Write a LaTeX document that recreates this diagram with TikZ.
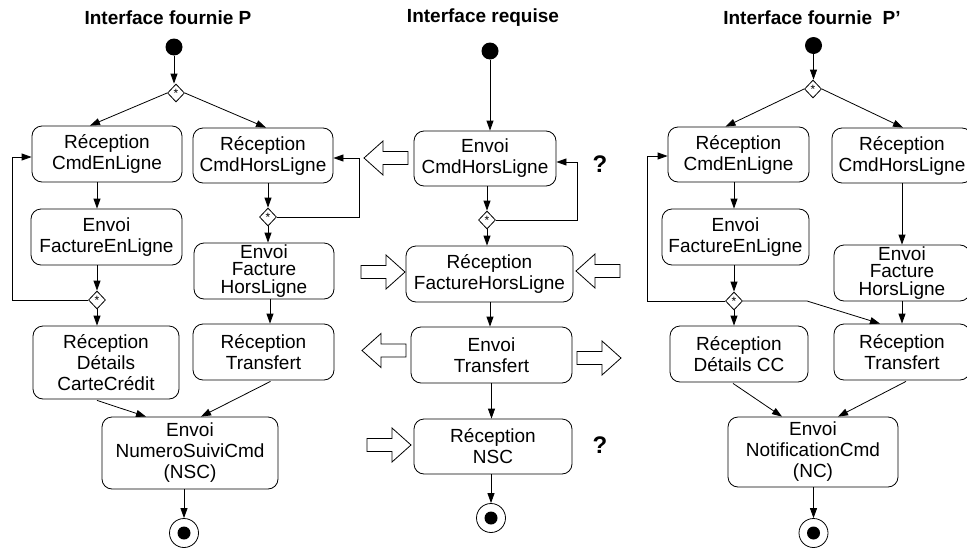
\documentclass[tikz,border=0pt]{standalone}
\usepackage{fontspec}
\setmainfont{Liberation Sans}
\usepackage{tikz}
\usetikzlibrary{shapes.geometric, arrows.meta, calc}

\begin{document}
\begin{tikzpicture}[x=1pt, y=-1pt,
  etat/.style={draw, line width=0.8pt, rounded corners=10pt, align=center, inner sep=0pt, font=\fontsize{19}{21}\selectfont},
  debut/.style={circle, fill=black, minimum size=17pt, inner sep=0pt},
  fin/.style={circle, draw, line width=0.8pt, minimum size=29pt, inner sep=0pt,
    path picture={\fill[black] (path picture bounding box.center) circle (6.5pt);}},
  branche/.style={diamond, draw, line width=0.8pt, minimum width=17pt, minimum height=18pt, inner sep=0pt, font=\fontsize{12}{12}\selectfont},
  titre/.style={font=\fontsize{19}{21}\selectfont\bfseries},
  quest/.style={font=\fontsize{24}{24}\selectfont\bfseries},
  fl/.style={-{Triangle[length=10pt, width=7pt]}, line width=0.8pt},
  bloc/.pic={\draw[line width=0.8pt, fill=white] (0,-6.5) -- (25,-6.5) -- (25,-17) -- (44,0) -- (25,17) -- (25,6.5) -- (0,6.5) -- cycle;}]
\useasboundingbox (0,0) rectangle (967,549);
\clip (0,0) rectangle (967,549);

% Titles
\node[titre] (titreP) at (168,18) {Interface fournie P};
\node[titre] (titreR) at (483,18) {Interface requise};
\node[titre] (titreP2) at (812,18) {Interface fournie\ \ P’};

% Interface fournie P
\node[debut] (initP) at (174,47) {};
\node[branche] (forkP) at (176,93) {\raisebox{-3pt}{*}};
\node[etat, minimum width=150pt, minimum height=56pt] (recEnP) at (107,154) {Réception\\CmdEnLigne};
\node[etat, minimum width=140pt, minimum height=55pt] (recHorsP) at (263,155.5) {Réception\\CmdHorsLigne};
\node[etat, minimum width=151pt, minimum height=56pt] (envFactEnP) at (106.5,237) {Envoi\\FactureEnLigne};
\node[branche] (joinHorsP) at (268,217) {\raisebox{-3pt}{*}};
\node[etat, minimum width=140pt, minimum height=56pt, font=\fontsize{19}{17.5}\selectfont] (envFactHorsP) at (264,271) {Envoi\\Facture\\HorsLigne};
\node[branche] (joinEnP) at (97,300) {\raisebox{-3pt}{*}};
\node[etat, minimum width=146pt, minimum height=73pt] (recDetP) at (106,362.5) {Réception\\Détails\\CarteCrédit};
\node[etat, minimum width=141pt, minimum height=56pt] (recTransP) at (263.5,352) {Réception\\Transfert};
\node[etat, minimum width=176pt, minimum height=72pt] (envNscP) at (190,453) {Envoi\\NumeroSuiviCmd\\(NSC)};
\node[fin] (finP) at (184,533) {};
\coordinate (boucleEnP) at (12,157);
\coordinate (boucleHorsP) at (359,158);

\draw[fl] (initP) -- (initP |- forkP.north);
\draw[fl] (forkP.west) -- ($(recEnP.north)+(-17,0)$);
\draw[fl] (forkP.east) -- ($(recHorsP.north)+(3,0)$);
\draw[fl] (recEnP.south -| joinEnP) -- (envFactEnP.north -| joinEnP);
\draw[fl] (envFactEnP.south -| joinEnP) -- (joinEnP);
\draw[fl] (joinEnP) -- (recDetP.north -| joinEnP);
\draw[fl] (joinEnP.west) -| (boucleEnP) -- (boucleEnP -| recEnP.west);
\draw[fl] (recHorsP.south -| joinHorsP) -- (joinHorsP);
\draw[fl] (joinHorsP) -- (envFactHorsP.north -| joinHorsP);
\draw[fl] (joinHorsP.east) -| (boucleHorsP) -- (boucleHorsP -| recHorsP.east);
\draw[fl] ($(envFactHorsP.south)+(6,0)$) -- ($(recTransP.north)+(6.5,0)$);
\draw[fl] ($(recDetP.south)+(-9,1)$) -- ($(envNscP.north)+(-44,0)$);
\draw[fl] ($(recTransP.south)+(7,1)$) -- ($(envNscP.north)+(11,0)$);
\draw[fl] (envNscP.south -| finP) -- (finP);

% Interface requise
\node[debut] (initR) at (490,51) {};
\node[etat, minimum width=142pt, minimum height=55pt] (envCmdR) at (485,158.5) {Envoi\\CmdHorsLigne};
\node[branche] (joinR) at (487,220) {\raisebox{-3pt}{*}};
\node[etat, minimum width=167pt, minimum height=56pt] (recFactR) at (489.5,274) {Réception\\FactureHorsLigne};
\node[etat, minimum width=161pt, minimum height=56pt] (envTransR) at (491.5,355) {Envoi\\Transfert};
\node[etat, minimum width=158pt, minimum height=55pt] (recNscR) at (493,446.5) {Réception\\NSC};
\node[fin] (finR) at (491,518) {};
\node[quest] (questR1) at (600,164) {?};
\node[quest] (questR2) at (600,445) {?};
\coordinate (boucleR) at (577,162);

\draw[fl] (initR) -- (initR |- envCmdR.north);
\draw[fl] (envCmdR.south -| joinR) -- (joinR);
\draw[fl] (joinR) -- (recFactR.north -| joinR);
\draw[fl] (joinR.east) -| (boucleR) -- (boucleR -| envCmdR.east);
\draw[fl] ($(recFactR.south)+(0.5,0)$) -- ($(envTransR.north)+(-1.5,0)$);
\draw[fl] (envTransR.south) -- (recNscR.north -| envTransR.south);
\draw[fl] (recNscR.south -| finR) -- (finR);

% Block arrows between interfaces
\pic[xscale=-1] at (408,158) {bloc};
\pic at (361,272) {bloc};
\pic[xscale=-1] at (620,271) {bloc};
\pic[xscale=-1] at (406,350.5) {bloc};
\pic at (577,358) {bloc};
\pic at (367,445) {bloc};

% Interface fournie P'
\node[debut] (initP2) at (813.5,45.5) {};
\node[branche] (forkP2) at (813,89) {\raisebox{-3pt}{*}};
\node[etat, minimum width=141pt, minimum height=55pt] (recEnP2) at (738.5,154.5) {Réception\\CmdEnLigne};
\node[etat, minimum width=140pt, minimum height=55pt] (recHorsP2) at (902,155.5) {Réception\\CmdHorsLigne};
\node[etat, minimum width=147pt, minimum height=56pt] (envFactEnP2) at (735.5,237) {Envoi\\FactureEnLigne};
\node[etat, minimum width=136pt, minimum height=56pt, font=\fontsize{19}{17.5}\selectfont] (envFactHorsP2) at (902,273) {Envoi\\Facture\\HorsLigne};
\node[branche] (joinP2) at (734,301) {\raisebox{-3pt}{*}};
\node[etat, minimum width=138pt, minimum height=56pt] (recDetP2) at (739,354) {Réception\\Détails CC};
\node[etat, minimum width=136pt, minimum height=56pt] (recTransP2) at (902,352) {Réception\\Transfert};
\node[etat, minimum width=170pt, minimum height=70pt] (envNcP2) at (813,452) {Envoi\\NotificationCmd\\(NC)};
\node[fin] (finP2) at (813.5,533) {};
\coordinate (boucleP2) at (647,156);
\coordinate (coudeP2) at (807,301);

\draw[fl] (initP2) -- (initP2 |- forkP2.north);
\draw[fl] (forkP2.west) -- ($(recEnP2.north)+(-13,0)$);
\draw[fl] (forkP2.east) -- ($(recHorsP2.north)+(1,0)$);
\draw[fl] (recEnP2.south -| joinP2) -- (envFactEnP2.north -| joinP2);
\draw[fl] (envFactEnP2.south -| joinP2) -- (joinP2);
\draw[fl] (joinP2) -- (recDetP2.north -| joinP2);
\draw[fl] (joinP2.west) -| (boucleP2) -- (boucleP2 -| recEnP2.west);
\draw[fl] (joinP2.east) -- (coudeP2) -- ($(recTransP2.north)+(-22,0)$);
\draw[fl] (recHorsP2.south) -- (envFactHorsP2.north);
\draw[fl] (envFactHorsP2.south) -- (recTransP2.north);
\draw[fl] ($(recDetP2.south)+(-6,1)$) -- ($(envNcP2.north)+(-31,0)$);
\draw[fl] ($(recTransP2.south)+(4,1)$) -- ($(envNcP2.north)+(25,0)$);
\draw[fl] (envNcP2.south -| finP2) -- (finP2);
\end{tikzpicture}
\end{document}
